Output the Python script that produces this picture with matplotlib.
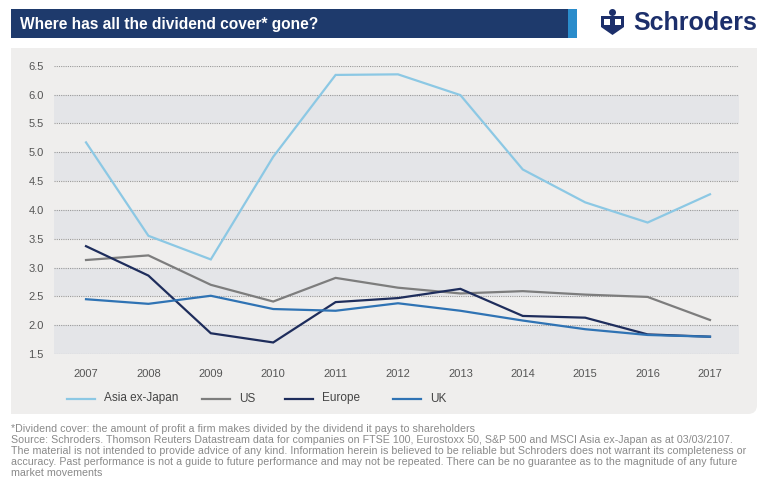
import matplotlib
matplotlib.use("Agg")
import matplotlib.pyplot as plt
from matplotlib.path import Path
from matplotlib.patches import PathPatch, Rectangle, Polygon, Circle
from matplotlib.lines import Line2D

plt.rcParams['font.family'] = ['Liberation Sans', 'DejaVu Sans']

# data
years = [2007, 2008, 2009, 2010, 2011, 2012, 2013, 2014, 2015, 2016, 2017]
asia = [5.17, 3.55, 3.14, 4.92, 6.34, 6.35, 5.99, 4.70, 4.13, 3.78, 4.27]
us = [3.13, 3.21, 2.70, 2.41, 2.82, 2.65, 2.55, 2.59, 2.53, 2.49, 2.09]
europe = [3.37, 2.86, 1.86, 1.70, 2.40, 2.47, 2.63, 2.16, 2.13, 1.84, 1.80]
uk = [2.45, 2.37, 2.51, 2.28, 2.25, 2.38, 2.25, 2.08, 1.93, 1.83, 1.80]
y_ticks = [1.5, 2.0, 2.5, 3.0, 3.5, 4.0, 4.5, 5.0, 5.5, 6.0, 6.5]

series = [
    ('Asia ex-Japan', asia, '#8cc8e4'),
    ('US', us, '#7d7d7d'),
    ('Europe', europe, '#1e2d5c'),
    ('UK', uk, '#2f73b4'),
]

footnote = [
    "*Dividend cover: the amount of profit a firm makes divided by the dividend it pays to shareholders",
    "Source: Schroders. Thomson Reuters Datastream data for companies on FTSE 100, Eurostoxx 50, S&P 500 and MSCI Asia ex-Japan as at 03/03/2107.",
    "The material is not intended to provide advice of any kind. Information herein is believed to be reliable but Schroders does not warrant its completeness or",
    "accuracy. Past performance is not a guide to future performance and may not be repeated. There can be no guarantee as to the magnitude of any future",
    "market movements",
]

W, H = 768, 497
fig = plt.figure(figsize=(W / 100, H / 100), dpi=100)
fig.patch.set_facecolor('white')

# background layer in pixel coordinates
bg = fig.add_axes([0, 0, 1, 1], zorder=0)
bg.set_xlim(0, W)
bg.set_ylim(H, 0)
bg.axis('off')

# title bar
bg.add_patch(Rectangle((11, 9), 559, 29, color='#1e3a6c', lw=0))
bg.add_patch(Rectangle((568, 9), 9, 29, color='#2a8ccb', lw=0))
bg.text(20, 24, "Where has all the dividend cover* gone?", color='white',
        fontsize=11.2, fontweight='bold', va='center', ha='left')

# logo
bg.text(695, 23.5, "Schroders", color='#1c2f6b', fontsize=18,
        fontweight='bold', va='center', ha='center')
bg.add_patch(Polygon([(601, 16), (624, 16), (624, 27), (612.5, 35), (601, 27)],
                     closed=True, color='#1c2f6b', lw=0))
bg.add_patch(Circle((612.5, 12.5), 3.5, color='#1c2f6b', lw=0))
bg.add_patch(Rectangle((604, 19), 6, 6, color='white', lw=0))
bg.add_patch(Rectangle((615, 19), 6, 6, color='white', lw=0))

# chart panel with rounded bottom-right corner
x0, x1, y0, y1, r = 11, 757, 48, 414, 9
verts = [(x0, y0), (x1, y0), (x1, y1 - r), (x1, y1), (x1 - r, y1), (x0, y1), (x0, y0)]
codes = [Path.MOVETO, Path.LINETO, Path.LINETO, Path.CURVE3, Path.CURVE3,
         Path.LINETO, Path.CLOSEPOLY]
bg.add_patch(PathPatch(Path(verts, codes), facecolor='#efeeed', edgecolor='none'))

# main plot
ax = fig.add_axes([54 / W, 1 - 354 / H, 685 / W, 288.3 / H], zorder=1)
ax.patch.set_alpha(0)
ax.set_xlim(2006.487, 2017.465)
ax.set_ylim(1.5, 6.5)

for lo in [1.5, 2.5, 3.5, 4.5, 5.5]:
    ax.axhspan(lo, lo + 0.5, color='#e4e5e8', lw=0, zorder=0)
for t in y_ticks:
    ax.axhline(t, color='#9a9a9a', lw=0.8, ls=(0, (1, 1)), zorder=1)

for name, vals, col in series:
    ax.plot(years, vals, color=col, lw=1.6, zorder=3, solid_joinstyle='miter')

for s in ax.spines.values():
    s.set_visible(False)
ax.set_yticks(y_ticks)
ax.set_yticklabels([f"{t:.1f}" for t in y_ticks])
ax.set_xticks(years)
ax.set_xticklabels([str(y) for y in years])
ax.tick_params(axis='y', length=0, pad=7.5, labelsize=8, labelcolor='#555555')
ax.tick_params(axis='x', length=0, pad=10.5, labelsize=8, labelcolor='#555555')

# legend
leg_x = [67, 202, 285, 393]
for (name, vals, col), lx in zip(series, leg_x):
    bg.add_line(Line2D([lx, lx + 28], [398.5, 398.5], color=col, lw=1.6))
    bg.text(lx + 37, 398.5, name, fontsize=8.5, color='#444444', va='center', ha='left')

# footnote
for i, line in enumerate(footnote):
    bg.text(11, 429 + i * 11, line, fontsize=7.65, color='#8a8a8a', va='center', ha='left')

fig.savefig('out.png', dpi=100)
